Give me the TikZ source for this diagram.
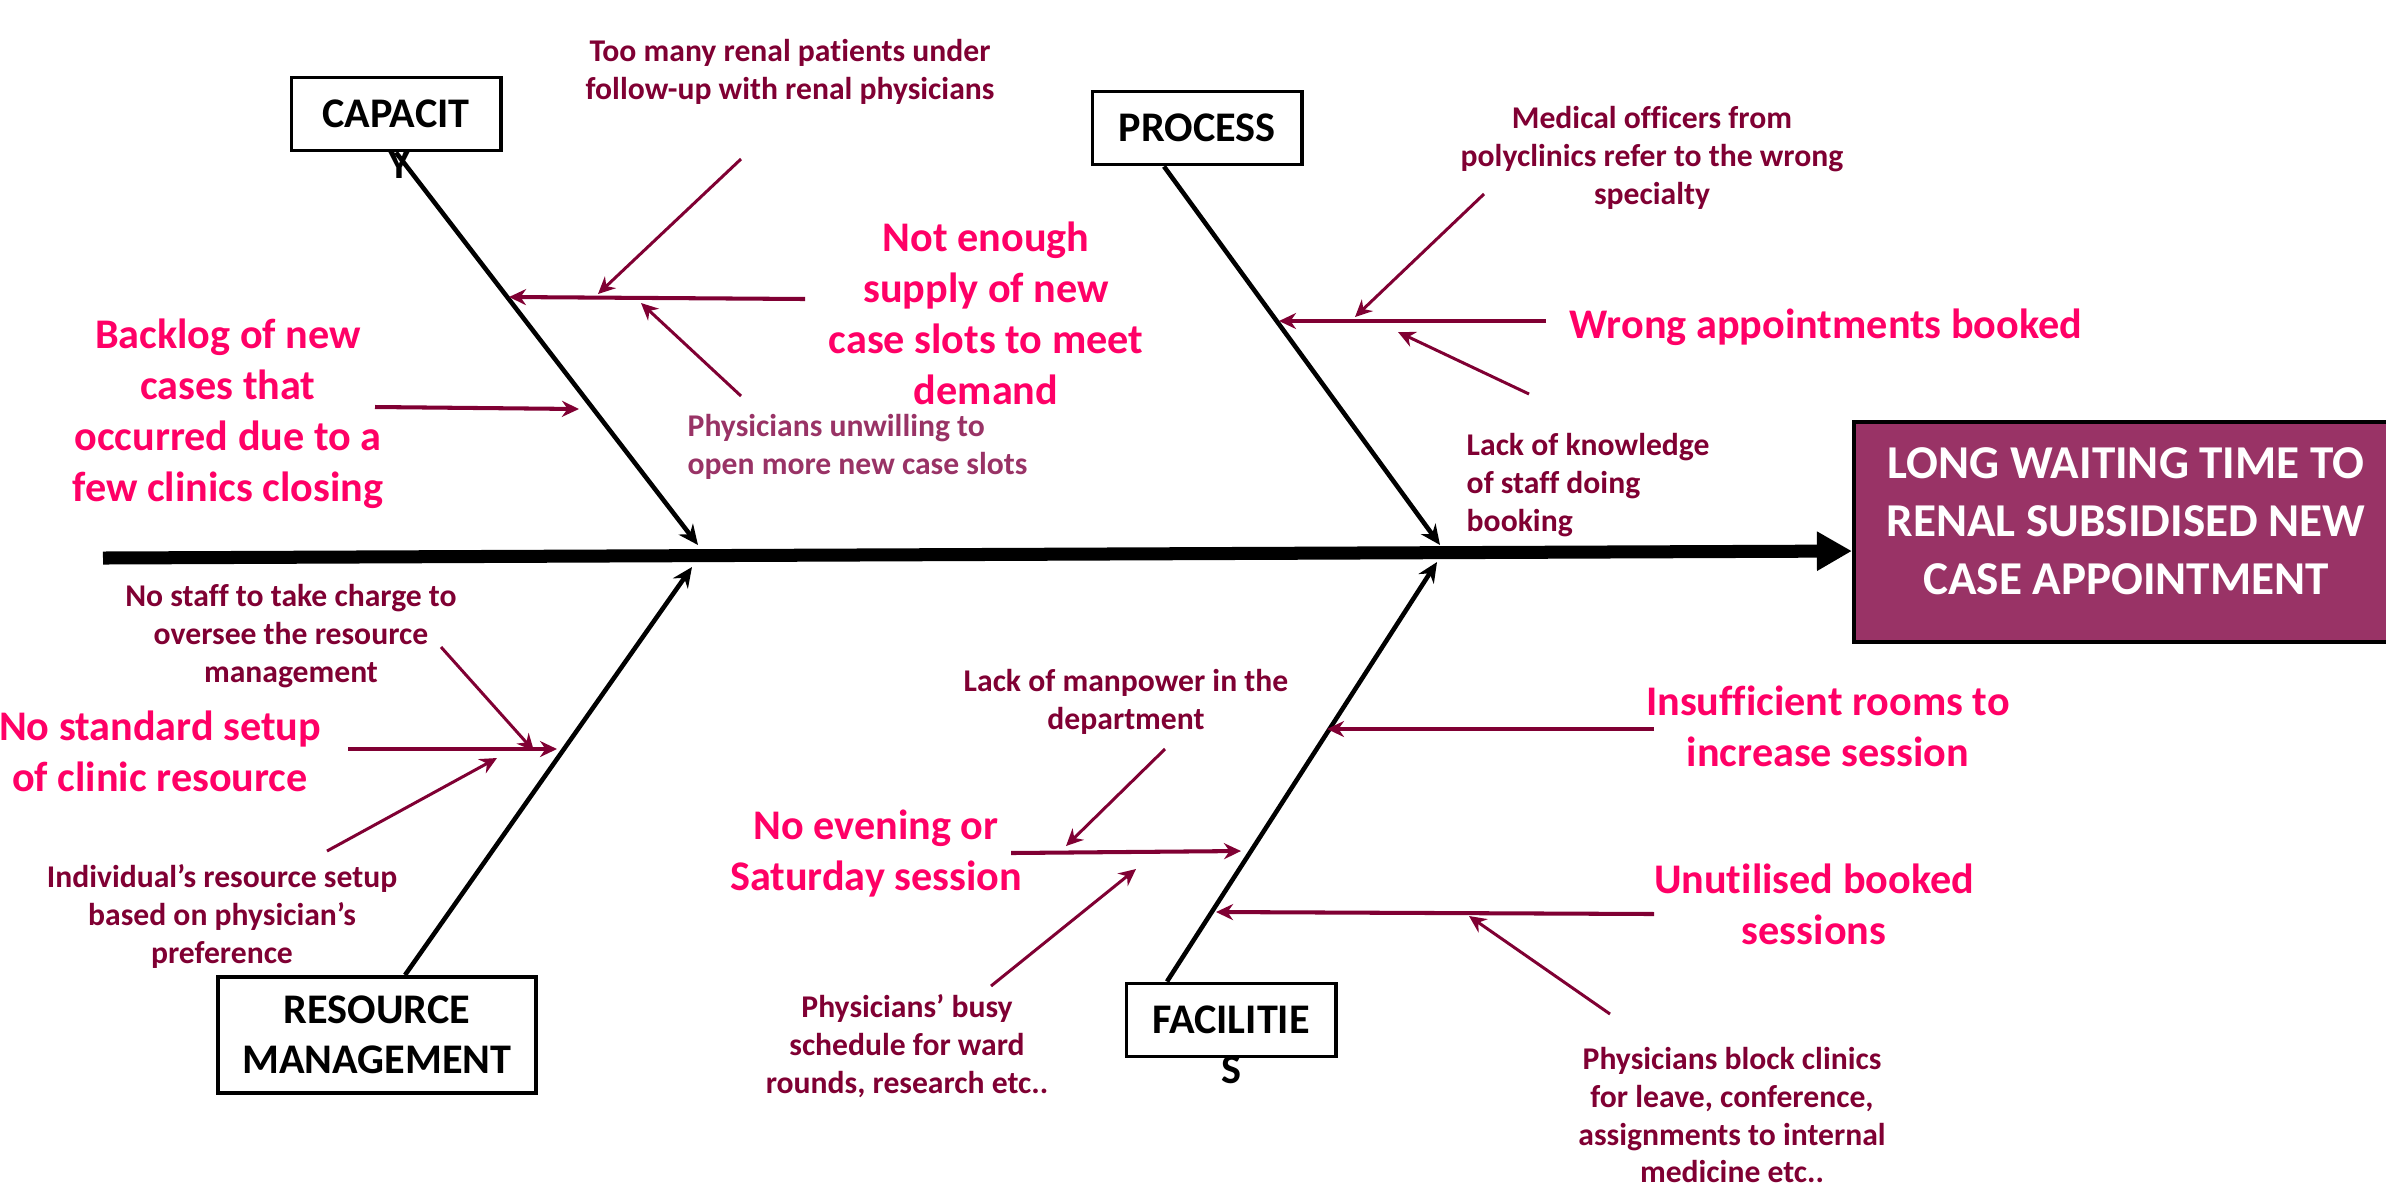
\documentclass[tikz,border=0pt]{standalone}
\usepackage{fontspec}
\setmainfont{Carlito}[Ligatures={TeX,NoCommon}]
\usetikzlibrary{arrows.meta}

\definecolor{maroon}{RGB}{128,0,51}
\definecolor{plum}{RGB}{153,51,102}
\definecolor{hotpink}{RGB}{255,0,102}

\begin{document}
\begin{tikzpicture}[
    x=0.01cm, y=-0.01cm,
    catfont/.style={font=\bfseries\fontsize{12}{14.2}\selectfont},
    category/.style={catfont, draw, line width=1.1pt, minimum width=2.09cm, minimum height=0.73cm, align=center, inner sep=0pt},
    cause/.style={text=hotpink, align=center, inner sep=0pt, font=\bfseries\fontsize{12}{14.5}\selectfont},
    subcause/.style={text=maroon, align=center, inner sep=0pt, font=\bfseries\fontsize{9}{10.8}\selectfont},
    bone/.style={line width=1.3pt, -{Stealth[length=2mm,width=1.8mm]}},
    twig/.style={maroon, line width=0.85pt, -{Stealth[length=1.7mm,width=1.6mm]}},
    branch/.style={twig, line width=1.15pt}
]

    \path[use as bounding box, fill=white] (0,0) rectangle (2386,1187);

    % effect and spine
    \node[draw, line width=1.1pt, fill=plum, text=white, align=center,
          minimum width=5.44cm, minimum height=2.2cm, text depth=0.22cm,
          font=\bfseries\fontsize{13.4}{16.5}\selectfont] (eff) at (2126,532)
        {LONG WAITING TIME TO\\RENAL SUBSIDISED NEW\\CASE APPOINTMENT};
    \coordinate (tail) at (103,558);
    \draw[line width=3.7pt, -{Triangle[length=3.5mm,width=3.7mm]}] (tail) -- ([yshift=-1.9mm]eff.west);

    % category boxes
    \node[category] (cap) at (396,114) {CAPACIT};
    \node[catfont, inner sep=0pt] (capY) at (399,165) {Y};
    \node[category] (proc) at (1197,128) {PROCESS};
    \node[category, minimum width=3.18cm, minimum height=1.16cm] (res) at (377,1035) {RESOURCE\\MANAGEMENT};
    \node[category] (fac) at (1231,1020) {FACILITIE};
    \node[catfont, inner sep=0pt] (facS) at (1231,1070) {S};

    % bones
    \coordinate (capTip) at (698,545);
    \coordinate (procTip) at (1440,545);
    \coordinate (resTip) at (692,567);
    \coordinate (facTip) at (1437,562);
    \draw[bone] (cap.south) -- (capTip);
    \draw[bone] ([xshift=-3.3mm]proc.south) -- (procTip);
    \draw[bone] ([xshift=2.8mm]res.north) -- (resTip);
    \draw[bone] ([xshift=-6.4mm]fac.north) -- (facTip);

    % capacity causes
    \node[subcause] (tooMany) at (790,72) {Too many renal patients under\\follow-up with renal physicians};
    \node[cause] (notEnough) at (986,313) {Not enough\\supply of new\\case slots to meet\\demand};
    \node[cause] (backlog) at (228,414) {Backlog of new\\cases that\\occurred due to a\\few clinics closing};
    \node[subcause, text=plum, align=left, anchor=west] (unwilling) at (687,447) {Physicians unwilling to\\open more new case slots};

    \coordinate (c1) at (805,299);  \coordinate (c1t) at (509,297);
    \coordinate (c2) at (741,159);  \coordinate (c2t) at (598,294);
    \coordinate (c3) at (741,396);  \coordinate (c3t) at (641,303);
    \coordinate (c4) at (375,407);  \coordinate (c4t) at (579,409);
    \draw[branch] (c1) -- (c1t);
    \draw[twig] (c2) -- (c2t);
    \draw[twig] (c3) -- (c3t);
    \draw[branch] (c4) -- (c4t);

    % process causes
    \node[subcause] (medical) at (1652,158) {Medical officers from\\polyclinics refer to the wrong\\specialty};
    \node[cause] (wrong) at (1826,327) {Wrong appointments booked};
    \node[subcause, align=left, anchor=west] (knowledge) at (1466,485) {Lack of knowledge\\of staff doing\\booking};

    \coordinate (p1) at (1546,321); \coordinate (p1t) at (1279,321);
    \coordinate (p2) at (1484,194); \coordinate (p2t) at (1355,317);
    \coordinate (p3) at (1529,394); \coordinate (p3t) at (1398,332);
    \draw[branch] (p1) -- (p1t);
    \draw[twig] (p2) -- (p2t);
    \draw[twig] (p3) -- (p3t);

    % resource management causes
    \node[subcause] (noStaff) at (291,636) {No staff to take charge to\\oversee the resource\\management};
    \node[cause] (noStandard) at (160,751) {No standard setup\\of clinic resource};
    \node[subcause] (individual) at (222,916) {Individual’s resource setup\\based on physician’s\\preference};

    \coordinate (r1) at (348,749);  \coordinate (r1t) at (557,749);
    \coordinate (r2) at (441,647);  \coordinate (r2t) at (534,751);
    \coordinate (r3) at (327,851);  \coordinate (r3t) at (497,758);
    \draw[branch] (r1) -- (r1t);
    \draw[twig] (r2) -- (r2t);
    \draw[twig] (r3) -- (r3t);

    % facilities causes
    \node[subcause] (manpower) at (1126,702) {Lack of manpower in the\\department};
    \node[cause] (evening) at (876,853) {No evening or\\Saturday session};
    \node[subcause] (busy) at (907,1046) {Physicians’ busy\\schedule for ward\\rounds, research etc..};
    \node[cause] (rooms) at (1828,726) {Insufficient rooms to\\increase session};
    \node[cause] (unutilised) at (1814,904) {Unutilised booked\\sessions};
    \node[subcause] (block) at (1732,1115) {Physicians block clinics\\for leave, conference,\\assignments to internal\\medicine etc..};

    \coordinate (f1) at (1011,853); \coordinate (f1t) at (1241,851);
    \coordinate (f2) at (1165,749); \coordinate (f2t) at (1066,846);
    \coordinate (f3) at (991,986);  \coordinate (f3t) at (1136,869);
    \coordinate (f4) at (1654,729); \coordinate (f4t) at (1327,729);
    \coordinate (f5) at (1654,914); \coordinate (f5t) at (1216,912);
    \coordinate (f6) at (1610,1014); \coordinate (f6t) at (1469,916);
    \draw[branch] (f1) -- (f1t);
    \draw[twig] (f2) -- (f2t);
    \draw[twig] (f3) -- (f3t);
    \draw[branch] (f4) -- (f4t);
    \draw[branch] (f5) -- (f5t);
    \draw[twig] (f6) -- (f6t);

\end{tikzpicture}
\end{document}
